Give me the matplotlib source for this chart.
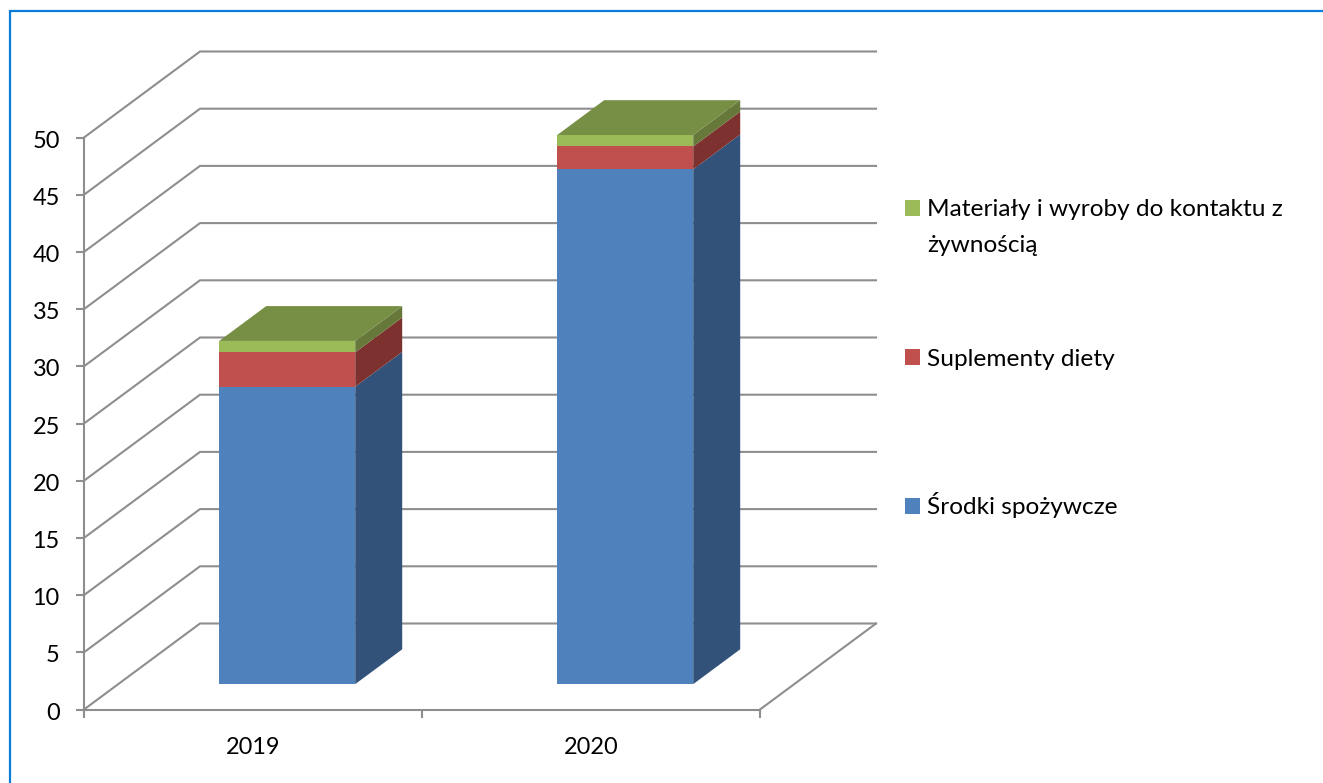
import matplotlib
matplotlib.use("Agg")
import matplotlib.pyplot as plt
from matplotlib.lines import Line2D
from matplotlib.patches import Patch
from matplotlib.transforms import ScaledTranslation

years = ["2019", "2020"]
srodki = [26, 45]
suplementy = [3, 2]
materialy = [1, 1]
series_names = ["Środki spożywcze", "Suplementy diety",
                "Materiały i wyroby do kontaktu z\nżywnością"]
y_ticks = [0, 5, 10, 15, 20, 25, 30, 35, 40, 45, 50]

W, H = 1323, 783
plt.rcParams["font.family"] = ["Lato", "DejaVu Sans"]
GRAY = "#8e8e8e"
FS = 16.9
LFS = 17.6

fig = plt.figure(figsize=(W / 100, H / 100), dpi=100, facecolor="white")
ax = fig.add_axes([84 / W, (H - 709.5) / H, 676 / W, 572 / H])
ax.patch.set_alpha(0)
ax.set_xlim(0, 2)
ax.set_ylim(0, 50)

DX, DY = 116 / 338, 86 / 11.44   # depth of chart box in data units


def proj(cat, val, depth):
    return cat + depth * DX, val + depth * DY


# walls
for v in y_ticks:
    p0, p1, p2 = proj(0, v, 0), proj(0, v, 1), proj(2, v, 1)
    ax.plot([p0[0], p1[0], p2[0]], [p0[1], p1[1], p2[1]], color=GRAY,
            lw=1.5, clip_on=False, zorder=1, solid_joinstyle="miter")
f0, f1 = proj(2, 0, 0), proj(2, 0, 1)
ax.plot([f0[0], f1[0]], [f0[1], f1[1]], color=GRAY, lw=1.5, clip_on=False, zorder=1)

# bars
D0, D1 = 0.295, 0.70
BW = 136 / 338
front = ["#4F81BD", "#C0504D", "#9BBB59"]
side = ["#325279", "#7D3230", "#66793A"]
top_col = "#778F45"
stack = [srodki, suplementy, materialy]
for i in range(len(years)):
    cx = i + 0.5
    l, r = cx - BW / 2, cx + BW / 2
    bottom = 0
    for s, vals in enumerate(stack):
        v = vals[i]
        x0, y0 = proj(cx, bottom, D0)
        ax.bar(x0, v, width=BW, bottom=y0, color=front[s], lw=0, zorder=3, clip_on=False)
        pts = [proj(r, bottom, D0), proj(r, bottom, D1),
               proj(r, bottom + v, D1), proj(r, bottom + v, D0)]
        ax.fill(*zip(*pts), color=side[s], lw=0, zorder=3, clip_on=False)
        bottom += v
    pts = [proj(l, bottom, D0), proj(r, bottom, D0), proj(r, bottom, D1), proj(l, bottom, D1)]
    ax.fill(*zip(*pts), color=top_col, lw=0, zorder=3, clip_on=False)

# axes
for sp in ("top", "right"):
    ax.spines[sp].set_visible(False)
for sp in ("left", "bottom"):
    ax.spines[sp].set_color(GRAY)
    ax.spines[sp].set_linewidth(1.5)
    ax.spines[sp].set_zorder(2)
ax.set_yticks(y_ticks)
ax.tick_params(axis="y", length=6, width=1.5, color=GRAY, pad=11, labelsize=FS, labelcolor="black")
nudge = ScaledTranslation(-0.5 / 100, -1.5 / 100, fig.dpi_scale_trans)
for t in ax.get_yticklabels():
    t.set_transform(t.get_transform() + nudge)
ax.set_xticks([0, 1, 2])
ax.set_xticklabels([])
ax.tick_params(axis="x", which="major", length=6, width=1.5, color=GRAY)
ax.set_xticks([0.5, 1.5], minor=True)
ax.set_xticklabels(years, minor=True)
ax.tick_params(axis="x", which="minor", length=0, pad=20, labelsize=FS, labelcolor="black")

# legend: the two-line entry has its own spacing, so it is a legend of its own
common = dict(loc="upper left", bbox_transform=fig.transFigure, frameon=False, fontsize=LFS,
              handlelength=0.62, handleheight=0.62, handletextpad=0.3,
              borderpad=0, borderaxespad=0)
leg_b = ax.legend([Patch(color=front[s], lw=0) for s in (1, 0)],
                  [series_names[s] for s in (1, 0)],
                  bbox_to_anchor=(905 / W, (H - 349) / H), labelspacing=5.0, **common)
ax.add_artist(leg_b)
leg_a = ax.legend([Patch(color=front[2], lw=0)], [series_names[2]],
                  bbox_to_anchor=(905 / W, (H - 199) / H), **common)
for t in leg_a.get_texts():
    t.set_linespacing(1.88)
leg_a.get_patches()[0].set_y(14.5)

# outer frame (top and left only)
fig.add_artist(Line2D([9.5 / W, 9.5 / W, 1], [0, (H - 10.5) / H, (H - 10.5) / H],
                      transform=fig.transFigure, color="#0A7BD6", lw=1.6,
                      solid_joinstyle="miter"))

fig.savefig("out.png", dpi=100)
